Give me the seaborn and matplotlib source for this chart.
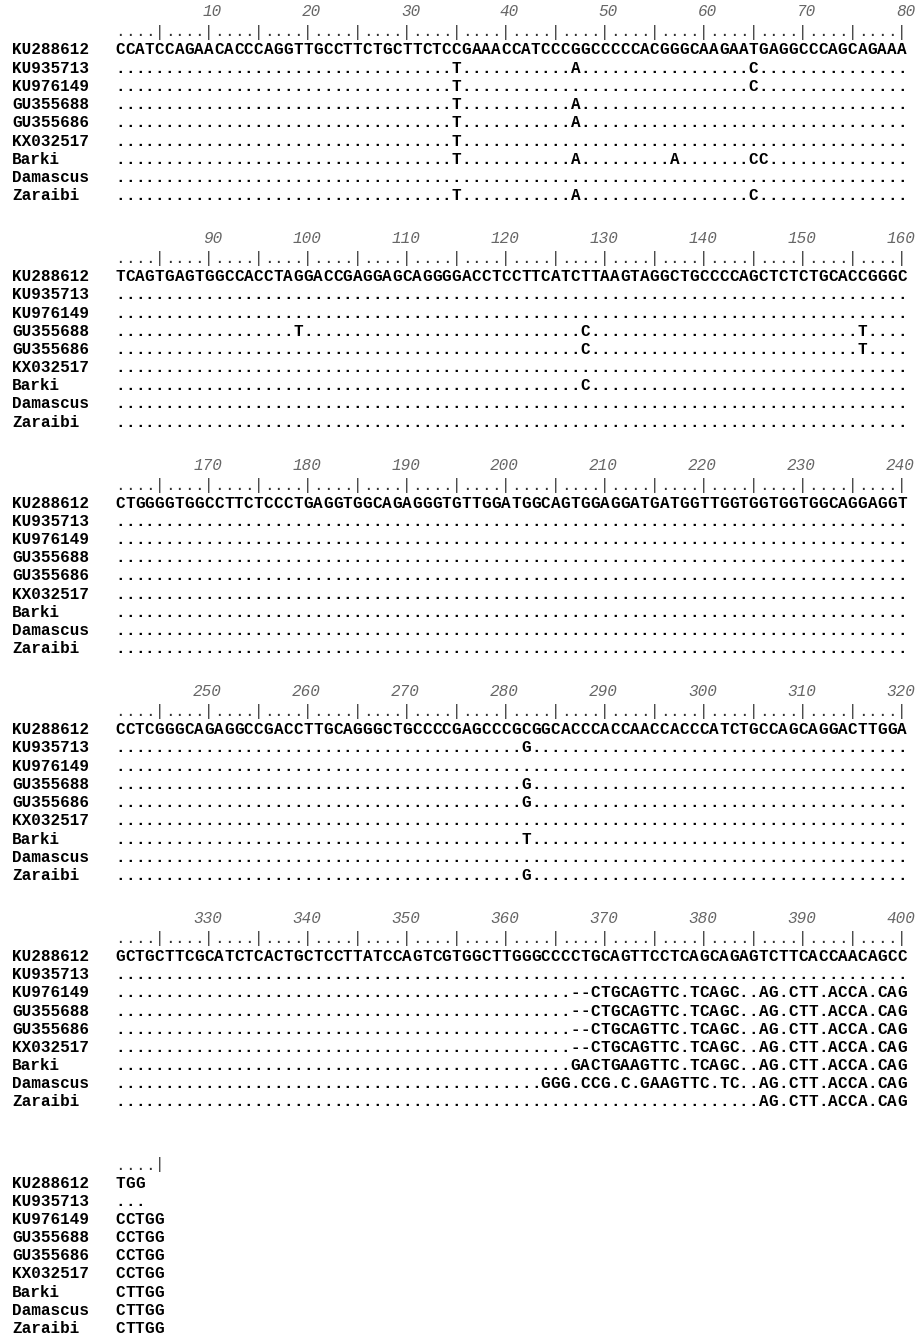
import seaborn as sns
import matplotlib.pyplot as plt

# sequence names, reference first
names = ["KU288612", "KU935713", "KU976149", "GU355688", "GU355686",
         "KX032517", "Barki", "Damascus", "Zaraibi"]

# reference sequence, one string per block of 80 (last block is the tail)
ref_blocks = [
    "CCATCCAGAACACCCAGGTTGCCTTCTGCTTCTCCGAAACCATCCCGGCCCCCACGGGCAAGAATGAGGCCCAGCAGAAA",
    "TCAGTGAGTGGCCACCTAGGACCGAGGAGCAGGGGACCTCCTTCATCTTAAGTAGGCTGCCCCAGCTCTCTGCACCGGGC",
    "CTGGGGTGGCCTTCTCCCTGAGGTGGCAGAGGGTGTTGGATGGCAGTGGAGGATGATGGTTGGTGGTGGTGGCAGGAGGT",
    "CCTCGGGCAGAGGCCGACCTTGCAGGGCTGCCCCGAGCCCGCGGCACCCACCAACCACCCATCTGCCAGCAGGACTTGGA",
    "GCTGCTTCGCATCTCACTGCTCCTTATCCAGTCGTGGCTTGGGCCCCTGCAGTTCCTCAGCAGAGTCTTCACCAACAGCC",
    "TGG",
]

# point differences to the reference (1-based position: base)
subs = {
    "KU935713": {35: "T", 47: "A", 65: "C", 282: "G"},
    "KU976149": {35: "T", 65: "C"},
    "GU355688": {35: "T", 47: "A", 99: "T", 128: "C", 156: "T", 282: "G"},
    "GU355686": {35: "T", 47: "A", 128: "C", 156: "T", 282: "G"},
    "KX032517": {35: "T"},
    "Barki": {35: "T", 47: "A", 57: "A", 65: "C", 66: "C", 128: "C", 282: "T"},
    "Damascus": {},
    "Zaraibi": {35: "T", 47: "A", 65: "C", 282: "G"},
}

# divergent 3' ends: (first position, text as shown)
ends = {
    "KU935713": (401, "..."),
    "KU976149": (367, "--CTGCAGTTC.TCAGC..AG.CTT.ACCA.CAGCCTGG"),
    "GU355688": (367, "--CTGCAGTTC.TCAGC..AG.CTT.ACCA.CAGCCTGG"),
    "GU355686": (367, "--CTGCAGTTC.TCAGC..AG.CTT.ACCA.CAGCCTGG"),
    "KX032517": (367, "--CTGCAGTTC.TCAGC..AG.CTT.ACCA.CAGCCTGG"),
    "Barki": (367, "GACTGAAGTTC.TCAGC..AG.CTT.ACCA.CAGCTTGG"),
    "Damascus": (364, "GGG.CCG.C.GAAGTTC.TC..AG.CTT.ACCA.CAGCTTGG"),
    "Zaraibi": (386, "AG.CTT.ACCA.CAGCTTGG"),
}

block_len = 80

# build display rows
ref = "".join(ref_blocks)
rows = [ref]
for nm in names[1:]:
    start, txt = ends[nm]
    r = list("." * (start - 1) + txt)
    for p, b in subs[nm].items():
        r[p - 1] = b
    rows.append("".join(r))
total_len = max(len(r) for r in rows)

sns.set_theme(style="white")
plt.rcParams["font.family"] = ["Liberation Mono", "DejaVu Sans Mono"]

fig = plt.figure(figsize=(9.21, 13.35), dpi=100)
ax = fig.add_axes([0, 0, 1, 1])
ax.set_xlim(0, 921)
ax.set_ylim(1335, 0)
ax.axis("off")

x0 = 115.0      # left edge of first column
cw = 9.9        # column width
name_x = 12
fs = 11.5
row_step = 18.2
block_step = 226.6
top = 50.0
base_off = 4.5

n_blocks = len(ref_blocks)
for b in range(n_blocks):
    yc = top + b * block_step
    lo = b * block_len
    hi = min(lo + block_len, total_len)

    # ruler
    for c in range(hi - lo):
        pos = lo + c + 1
        ch = "|" if pos % 5 == 0 else "."
        ax.text(x0 + (c + 0.5) * cw, yc - 18 + base_off, ch, ha="center",
                va="baseline", fontsize=fs, color="#333333")
        if pos % 10 == 0:
            ax.text(x0 + (c + 0.5) * cw + 13, yc - 38 + base_off, str(pos),
                    ha="right", va="baseline", fontsize=fs, style="italic",
                    color="#666666")

    # sequences
    for i, nm in enumerate(names):
        y = yc + i * row_step + base_off
        ax.text(name_x, y, nm, ha="left", va="baseline", fontsize=fs,
                fontweight="bold", color="black")
        seg = rows[i][lo:hi]
        for c, ch in enumerate(seg):
            ax.text(x0 + (c + 0.5) * cw, y, ch, ha="center", va="baseline",
                    fontsize=fs, fontweight="bold", color="black")

fig.savefig("out.png", dpi=100, facecolor="white")
